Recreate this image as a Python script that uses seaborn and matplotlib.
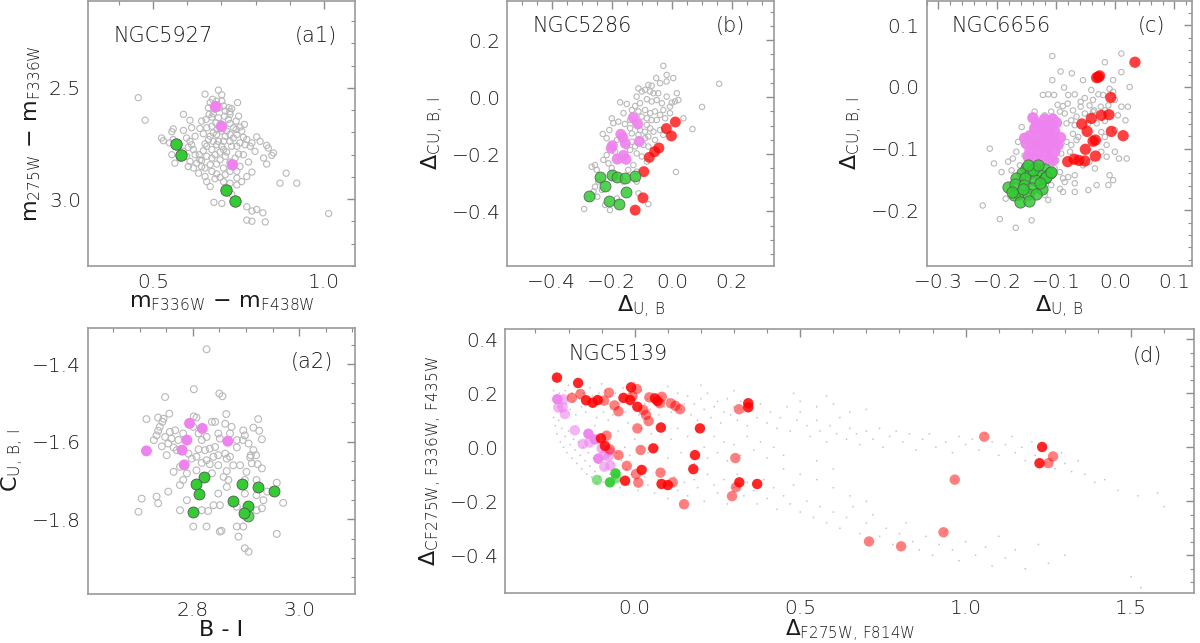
import matplotlib
matplotlib.use("Agg")
import matplotlib.pyplot as plt
from matplotlib.ticker import MultipleLocator
import seaborn as sns

# ---------------- data ----------------
# (a1) NGC5927 : m_F336W - m_F438W  vs  m_275W - m_F336W
a1_bg = [(0.457, 2.544), (0.477, 2.645), (0.691, 2.510), (0.701, 2.531), (0.652, 2.528), (0.674, 2.551),
         (0.667, 2.566), (0.686, 2.559), (0.701, 2.559), (0.747, 2.566), (0.662, 2.589), (0.706, 2.581),
         (0.722, 2.589), (0.730, 2.593), (0.664, 2.619), (0.655, 2.642), (0.642, 2.649), (0.676, 2.616),
         (0.691, 2.634), (0.709, 2.627), (0.725, 2.619), (0.720, 2.642), (0.750, 2.627), (0.589, 2.619),
         (0.608, 2.645), (0.684, 2.657), (0.672, 2.672), (0.657, 2.679), (0.637, 2.682), (0.725, 2.660),
         (0.735, 2.679), (0.715, 2.694), (0.743, 2.687), (0.767, 2.664), (0.559, 2.684), (0.589, 2.691),
         (0.555, 2.697), (0.613, 2.679), (0.647, 2.706), (0.667, 2.717), (0.686, 2.709), (0.701, 2.694),
         (0.711, 2.717), (0.725, 2.709), (0.745, 2.709), (0.759, 2.694), (0.774, 2.732), (0.789, 2.747),
         (0.803, 2.720), (0.813, 2.740), (0.769, 2.755), (0.754, 2.747), (0.735, 2.725), (0.525, 2.725),
         (0.530, 2.737), (0.559, 2.732), (0.548, 2.747), (0.608, 2.740), (0.613, 2.755), (0.603, 2.767),
         (0.589, 2.785), (0.618, 2.777), (0.652, 2.752), (0.657, 2.762), (0.686, 2.755), (0.706, 2.777),
         (0.715, 2.788), (0.696, 2.788), (0.681, 2.800), (0.672, 2.815), (0.657, 2.807), (0.637, 2.823),
         (0.628, 2.838), (0.608, 2.830), (0.603, 2.853), (0.618, 2.860), (0.642, 2.853), (0.667, 2.845),
         (0.686, 2.842), (0.706, 2.860), (0.725, 2.875), (0.745, 2.875), (0.754, 2.853), (0.779, 2.833),
         (0.764, 2.800), (0.750, 2.797), (0.784, 2.762), (0.798, 2.785), (0.823, 2.815), (0.832, 2.758),
         (0.837, 2.770), (0.852, 2.792), (0.847, 2.803), (0.832, 2.842), (0.789, 2.878), (0.774, 2.898),
         (0.745, 2.905), (0.725, 2.928), (0.706, 2.921), (0.686, 2.886), (0.672, 2.875), (0.652, 2.898),
         (0.657, 2.921), (0.667, 2.943), (0.564, 2.838), (0.555, 2.800), (0.579, 2.815), (0.598, 2.807),
         (0.633, 2.883), (0.678, 3.014), (0.701, 3.019), (0.730, 2.978), (0.759, 2.921), (0.745, 2.936),
         (0.774, 3.034), (0.789, 3.053), (0.803, 3.046), (0.821, 3.061), (0.774, 3.094), (0.789, 3.099),
         (0.828, 3.102), (0.889, 2.883), (0.871, 2.928), (0.920, 2.928), (1.013, 3.064), (0.635, 2.800),
         (0.642, 2.827), (0.696, 2.823), (0.711, 2.807), (0.701, 2.762), (0.694, 2.589), (0.711, 2.604),
         (0.725, 2.607), (0.681, 2.596), (0.672, 2.631), (0.698, 2.661), (0.688, 2.687), (0.676, 2.702),
         (0.662, 2.732), (0.676, 2.740), (0.691, 2.740), (0.725, 2.740), (0.730, 2.762), (0.745, 2.762),
         (0.764, 2.722), (0.740, 2.815), (0.725, 2.833), (0.711, 2.890), (0.696, 2.902), (0.681, 2.908),
         (0.623, 2.717), (0.598, 2.725), (0.574, 2.762), (0.623, 2.800), (0.647, 2.782), (0.743, 2.649),
         (0.754, 2.676), (0.706, 2.740), (0.672, 2.777), (0.652, 2.860)]
a1_violet = [(0.683, 2.584), (0.700, 2.673), (0.732, 2.845)]
a1_green = [(0.568, 2.752), (0.583, 2.801), (0.713, 2.957), (0.740, 3.007)]

# (a2) NGC5927 : B - I  vs  C_U,B,I
a2_bg = [(2.826, -1.362), (2.802, -1.465), (2.748, -1.485), (2.850, -1.476), (2.856, -1.483), (2.713, -1.542),
         (2.735, -1.538), (2.745, -1.541), (2.756, -1.528), (2.743, -1.549), (2.738, -1.562), (2.735, -1.572),
         (2.732, -1.584), (2.727, -1.596), (2.748, -1.588), (2.757, -1.575), (2.767, -1.571), (2.760, -1.592),
         (2.754, -1.605), (2.764, -1.615), (2.770, -1.622), (2.751, -1.635), (2.742, -1.612), (2.802, -1.535),
         (2.807, -1.538), (2.801, -1.562), (2.811, -1.579), (2.817, -1.596), (2.826, -1.588), (2.836, -1.549),
         (2.842, -1.549), (2.848, -1.579), (2.861, -1.554), (2.863, -1.529), (2.873, -1.562), (2.851, -1.592),
         (2.842, -1.614), (2.832, -1.618), (2.823, -1.622), (2.811, -1.620), (2.807, -1.639), (2.798, -1.644),
         (2.792, -1.631), (2.826, -1.648), (2.839, -1.639), (2.848, -1.635), (2.861, -1.631), (2.864, -1.644),
         (2.870, -1.639), (2.883, -1.615), (2.895, -1.571), (2.898, -1.584), (2.894, -1.596), (2.914, -1.564),
         (2.923, -1.542), (2.925, -1.572), (2.930, -1.594), (2.905, -1.605), (2.914, -1.622), (2.919, -1.635),
         (2.908, -1.641), (2.889, -1.661), (2.901, -1.678), (2.930, -1.669), (2.922, -1.658), (2.911, -1.656),
         (2.898, -1.699), (2.864, -1.676), (2.848, -1.661), (2.832, -1.658), (2.817, -1.655), (2.807, -1.674),
         (2.776, -1.665), (2.764, -1.678), (2.782, -1.699), (2.776, -1.712), (2.754, -1.729), (2.732, -1.742),
         (2.704, -1.747), (2.698, -1.781), (2.735, -1.759), (2.776, -1.777), (2.789, -1.751), (2.817, -1.777),
         (2.829, -1.779), (2.839, -1.764), (2.851, -1.764), (2.848, -1.734), (2.867, -1.699), (2.864, -1.717),
         (2.883, -1.768), (2.898, -1.734), (2.920, -1.738), (2.933, -1.751), (2.940, -1.729), (2.958, -1.706),
         (2.970, -1.758), (2.930, -1.772), (2.920, -1.777), (2.801, -1.819), (2.826, -1.819), (2.851, -1.832),
         (2.854, -1.830), (2.883, -1.819), (2.886, -1.845), (2.895, -1.819), (2.898, -1.875), (2.905, -1.884),
         (2.958, -1.838), (2.920, -1.699), (2.909, -1.635), (2.883, -1.596), (2.870, -1.579), (2.782, -1.579),
         (2.773, -1.596), (2.789, -1.682), (2.836, -1.682), (2.876, -1.661), (2.858, -1.691)]
a2_violet = [(2.794, -1.553), (2.818, -1.566), (2.789, -1.596), (2.780, -1.622), (2.713, -1.624),
             (2.784, -1.660), (2.866, -1.599)]
a2_green = [(2.822, -1.690), (2.807, -1.710), (2.811, -1.734), (2.801, -1.781), (2.893, -1.710), (2.923, -1.717),
            (2.952, -1.728), (2.876, -1.752), (2.904, -1.766), (2.896, -1.783)]
a2_green_faint = [(2.904, -1.792)]

# (b) NGC5286
b_bg = [(-0.028, 0.110), (-0.017, 0.078), (-0.052, 0.067), (0.005, 0.067), (-0.017, 0.055), (-0.078, 0.043),
        (-0.067, 0.040), (-0.039, 0.049), (0.158, 0.047), (-0.111, 0.031), (-0.100, 0.020), (-0.089, 0.026),
        (-0.072, 0.020), (-0.045, 0.014), (-0.017, 0.002), (0.017, 0.014), (0.022, -0.010), (0.000, -0.019),
        (-0.172, -0.018), (-0.150, -0.024), (-0.122, -0.031), (-0.106, -0.021), (-0.083, -0.007), (-0.067, -0.015),
        (-0.050, -0.010), (-0.033, -0.021), (-0.006, -0.033), (0.011, -0.015), (0.101, -0.034), (-0.133, -0.045),
        (-0.111, -0.050), (-0.089, -0.045), (-0.072, -0.056), (-0.056, -0.050), (-0.039, -0.062), (-0.022, -0.074),
        (-0.050, -0.080), (-0.067, -0.080), (-0.083, -0.074), (-0.100, -0.068), (-0.200, -0.074), (-0.195, -0.091),
        (-0.178, -0.086), (-0.156, -0.094), (-0.083, -0.097), (-0.072, -0.109), (-0.061, -0.121), (-0.089, -0.121),
        (-0.106, -0.115), (-0.139, -0.109), (-0.133, -0.127), (-0.111, -0.132), (-0.089, -0.144), (-0.078, -0.138),
        (-0.056, -0.150), (0.039, -0.074), (0.069, -0.112), (-0.230, -0.129), (-0.208, -0.115), (-0.217, -0.144),
        (-0.183, -0.150), (-0.133, -0.156), (-0.122, -0.173), (-0.139, -0.185), (-0.095, -0.167), (-0.078, -0.173),
        (-0.117, -0.197), (-0.100, -0.208), (-0.189, -0.191), (-0.217, -0.203), (-0.228, -0.220), (-0.256, -0.238),
        (-0.267, -0.244), (-0.250, -0.255), (-0.211, -0.232), (-0.200, -0.249), (-0.128, -0.238), (-0.145, -0.255),
        (-0.117, -0.261), (-0.245, -0.296), (-0.256, -0.314), (-0.233, -0.325), (-0.261, -0.331), (-0.278, -0.355),
        (-0.248, -0.349), (-0.292, -0.392), (-0.206, -0.396), (-0.183, -0.355), (-0.117, -0.296), (0.014, -0.262),
        (-0.139, -0.080), (-0.122, -0.091), (-0.161, -0.056), (-0.061, 0.014), (-0.117, 0.002), (-0.028, -0.045),
        (-0.006, -0.056), (-0.039, -0.115), (-0.028, -0.132), (-0.150, -0.173), (-0.172, -0.220), (-0.083, -0.226),
        (-0.111, -0.337), (-0.222, -0.378), (-0.078, -0.375), (-0.161, -0.296)]
b_violet = [(-0.128, -0.0715), (-0.113, -0.094), (-0.170, -0.130), (-0.163, -0.141), (-0.155, -0.162),
            (-0.108, -0.155), (-0.198, -0.170), (-0.202, -0.179), (-0.161, -0.204), (-0.182, -0.217),
            (-0.152, -0.218)]
b_green = [(-0.239, -0.281), (-0.200, -0.272), (-0.183, -0.281), (-0.156, -0.282), (-0.122, -0.277),
           (-0.221, -0.310), (-0.276, -0.346), (-0.208, -0.364), (-0.177, -0.375), (-0.152, -0.334)]
b_red = [(0.012, -0.087), (-0.018, -0.110), (-0.001, -0.136), (-0.043, -0.178), (-0.057, -0.191),
         (-0.075, -0.211), (-0.093, -0.261), (-0.096, -0.353), (-0.122, -0.396)]

# (c) NGC6656
c_bg = [(-0.107, 0.050), (0.010, 0.054), (-0.018, 0.040), (-0.093, 0.025), (-0.074, 0.022), (-0.004, 0.011),
        (-0.055, 0.011), (-0.107, 0.011), (-0.087, -0.001), (-0.069, -0.012), (-0.104, -0.013), (-0.114, -0.012),
        (-0.123, -0.013), (-0.052, -0.018), (-0.038, -0.021), (-0.029, -0.012), (-0.021, -0.013), (-0.010, -0.003),
        (-0.004, -0.008), (0.024, 0.000), (0.010, -0.032), (0.021, -0.032), (-0.098, -0.029), (-0.089, -0.031),
        (-0.081, -0.027), (-0.072, -0.038), (-0.059, -0.032), (-0.044, -0.030), (-0.036, -0.038), (-0.025, -0.032),
        (-0.012, -0.030), (-0.001, -0.021), (-0.137, -0.040), (-0.120, -0.046), (-0.109, -0.040), (-0.086, -0.043),
        (-0.075, -0.054), (-0.066, -0.048), (-0.052, -0.043), (-0.038, -0.040), (-0.018, -0.038), (0.004, -0.046),
        (0.017, -0.054), (-0.083, -0.059), (-0.069, -0.062), (-0.046, -0.059), (-0.032, -0.059), (-0.018, -0.055),
        (-0.072, -0.076), (-0.063, -0.081), (-0.018, -0.081), (-0.001, -0.070), (-0.024, -0.073), (-0.083, -0.089),
        (-0.075, -0.094), (-0.066, -0.086), (-0.015, -0.094), (-0.024, -0.105), (-0.015, -0.113), (-0.001, -0.105),
        (0.006, -0.116), (0.019, -0.116), (-0.092, -0.108), (-0.077, -0.105), (-0.159, -0.065), (-0.165, -0.089),
        (-0.168, -0.105), (-0.154, -0.111), (-0.174, -0.116), (-0.182, -0.121), (-0.206, -0.124), (-0.213, -0.100),
        (-0.193, -0.138), (-0.176, -0.135), (-0.162, -0.127), (-0.103, -0.132), (-0.094, -0.138), (-0.089, -0.148),
        (-0.080, -0.146), (-0.069, -0.143), (-0.055, -0.127), (-0.044, -0.121), (-0.035, -0.132), (-0.032, -0.159),
        (-0.010, -0.143), (-0.004, -0.151), (-0.012, -0.159), (-0.046, -0.167), (-0.069, -0.156), (-0.086, -0.154),
        (-0.094, -0.165), (-0.089, -0.170), (-0.069, -0.170), (-0.109, -0.159), (-0.114, -0.183), (-0.120, -0.175),
        (-0.225, -0.192), (-0.196, -0.214), (-0.169, -0.228), (-0.142, -0.216), (-0.186, -0.181), (-0.100, -0.119),
        (0.010, 0.024), (-0.041, -0.005), (-0.080, -0.013), (-0.059, -0.024), (-0.094, -0.040), (-0.106, -0.048)]
c_red = [(0.033, 0.040), (-0.029, 0.016), (-0.032, 0.015), (-0.027, 0.018), (-0.008, -0.017), (-0.024, -0.046),
         (-0.011, -0.045), (-0.057, -0.060), (-0.041, -0.051), (-0.007, -0.072), (0.013, -0.079), (-0.048, -0.072),
         (-0.038, -0.088), (-0.034, -0.086), (-0.051, -0.101), (-0.034, -0.112), (-0.081, -0.121), (-0.070, -0.117),
         (-0.062, -0.119), (-0.052, -0.120)]
c_violet = [(-0.140, -0.050), (-0.120, -0.052), (-0.106, -0.052), (-0.100, -0.058), (-0.125, -0.062),
            (-0.111, -0.062), (-0.137, -0.067), (-0.123, -0.070), (-0.103, -0.072), (-0.093, -0.082),
            (-0.145, -0.079), (-0.131, -0.078), (-0.117, -0.081), (-0.107, -0.084), (-0.151, -0.092),
            (-0.137, -0.090), (-0.123, -0.090), (-0.110, -0.094), (-0.097, -0.094), (-0.145, -0.104),
            (-0.131, -0.105), (-0.117, -0.105), (-0.103, -0.105), (-0.138, -0.116), (-0.125, -0.119),
            (-0.111, -0.116), (-0.120, -0.076), (-0.128, -0.094), (-0.142, -0.094), (-0.103, -0.089),
            (-0.154, -0.083), (-0.114, -0.070), (-0.134, -0.058), (-0.117, -0.097), (-0.106, -0.119),
            (-0.148, -0.113)]
c_green = [(-0.151, -0.132), (-0.137, -0.131), (-0.120, -0.133), (-0.111, -0.140), (-0.159, -0.140),
           (-0.145, -0.140), (-0.128, -0.143), (-0.168, -0.148), (-0.154, -0.148), (-0.137, -0.150),
           (-0.120, -0.148), (-0.182, -0.162), (-0.171, -0.158), (-0.155, -0.159), (-0.142, -0.164),
           (-0.125, -0.166), (-0.165, -0.173), (-0.148, -0.174), (-0.134, -0.174), (-0.172, -0.175),
           (-0.162, -0.186), (-0.147, -0.185), (-0.117, -0.146), (-0.109, -0.138), (-0.128, -0.155),
           (-0.157, -0.166), (-0.176, -0.170), (-0.140, -0.135), (-0.131, -0.127), (-0.148, -0.126)]

# (d) NGC5139
d_bg = [(-0.245, 0.21), (-0.24, 0.17), (-0.236, 0.19), (-0.232, 0.15), (-0.228, 0.20), (-0.222, 0.13),
        (-0.218, 0.18), (-0.21, 0.21), (-0.205, 0.16), (-0.2, 0.19), (-0.195, 0.14), (-0.19, 0.2), (-0.185, 0.17),
        (-0.178, 0.12), (-0.172, 0.21), (-0.166, 0.18), (-0.16, 0.15), (-0.154, 0.2), (-0.148, 0.13),
        (-0.142, 0.17), (-0.135, 0.22), (-0.128, 0.19), (-0.121, 0.15), (-0.115, 0.11), (-0.108, 0.2),
        (-0.1, 0.17), (-0.094, 0.13), (-0.088, 0.21), (-0.08, 0.16), (-0.073, 0.19), (-0.066, 0.12), (-0.058, 0.2),
        (-0.05, 0.15), (-0.043, 0.18), (-0.035, 0.22), (-0.028, 0.13), (-0.02, 0.17), (-0.012, 0.2),
        (-0.004, 0.15), (0.005, 0.19), (0.013, 0.12), (0.021, 0.21), (0.03, 0.16), (0.038, 0.18), (0.047, 0.14),
        (0.055, 0.2), (0.064, 0.17), (0.073, 0.12), (0.082, 0.19), (0.09, 0.15), (0.1, 0.18), (0.11, 0.13),
        (0.12, 0.17), (0.13, 0.2), (0.14, 0.14), (0.15, 0.16),
        (0.16, 0.19), (0.17, 0.12), (0.18, 0.16), (0.19, 0.1), (0.2, 0.18), (0.21, 0.14), (0.22, 0.2), (0.23, 0.11),
        (0.24, 0.15), (0.25, 0.17), (0.26, 0.09), (0.27, 0.13), (0.28, 0.18), (0.29, 0.12), (0.3, 0.15),
        (0.31, 0.1), (0.32, 0.17), (0.33, 0.13), (0.34, 0.08), (0.35, 0.14), (0.37, 0.11), (0.38, 0.16),
        (0.4, 0.09), (0.41, 0.13), (0.43, 0.07), (0.44, 0.11), (0.46, 0.15), (0.47, 0.06), (0.49, 0.1), (0.5, 0.13),
        (0.52, 0.08), (0.53, 0.04), (0.55, 0.1), (0.56, 0.06), (0.58, 0.02), (0.59, 0.08), (0.61, 0.05),
        (0.62, 0.11), (0.64, 0.03), (0.65, 0.07), (0.67, 0.05), (0.68, 0.01), (0.7, 0.06), (0.72, 0.03),
        (0.74, 0.07), (0.75, 0.0), (0.77, 0.04), (0.79, 0.06), (0.81, 0.02), (0.83, 0.05), (0.85, -0.01),
        (0.87, 0.03), (0.89, 0.05), (0.91, 0.0), (0.94, 0.02), (0.96, -0.02), (0.98, 0.04), (1.0, 0.01),
        (0.5, 0.17), (0.55, 0.15), (0.6, 0.16), (0.65, 0.13), (0.7, 0.14), (0.48, 0.2), (0.58, 0.19),
        (1.02, 0.03), (1.04, -0.01), (1.06, 0.05), (1.08, 0.02), (1.1, -0.03), (1.12, 0.01), (1.14, 0.04),
        (1.15, -0.02), (1.17, 0.0), (1.18, -0.05), (1.2, 0.02), (1.21, -0.03), (1.23, -0.07), (1.24, 0.0),
        (1.26, -0.04), (1.27, -0.08), (1.29, -0.02), (1.3, -0.06), (1.32, -0.09), (1.34, -0.05), (1.36, -0.1),
        (1.39, -0.13), (1.42, -0.12), (1.46, -0.16), (1.52, -0.18), (1.58, -0.17), (1.6, -0.22),
        (-0.245, 0.11), (-0.24, 0.08), (-0.235, 0.05), (-0.23, 0.1), (-0.225, 0.02), (-0.22, 0.07), (-0.215, 0.0),
        (-0.21, 0.04), (-0.205, -0.02), (-0.2, 0.06), (-0.195, 0.01), (-0.19, -0.04), (-0.185, 0.03),
        (-0.18, -0.01), (-0.175, -0.06), (-0.17, 0.02), (-0.165, -0.03), (-0.16, -0.08), (-0.155, 0.0),
        (-0.15, -0.05), (-0.145, -0.1), (-0.14, -0.02), (-0.135, -0.07), (-0.13, -0.11), (-0.125, -0.04),
        (-0.12, -0.09), (-0.115, -0.13), (-0.11, -0.06), (-0.105, -0.11), (-0.1, -0.02), (-0.095, -0.13),
        (-0.09, -0.08), (-0.085, -0.12), (-0.08, -0.04), (-0.075, -0.1), (-0.07, -0.14), (-0.065, -0.06),
        (-0.06, -0.12), (-0.055, -0.02), (-0.05, -0.09), (-0.045, -0.15), (-0.04, -0.05), (-0.035, -0.12),
        (-0.03, 0.0), (-0.025, -0.08), (-0.02, -0.14), (-0.015, -0.03), (-0.01, -0.1),
        (-0.12, 0.08), (-0.08, 0.1), (-0.05, 0.06), (-0.02, 0.09), (0.0, 0.03), (0.02, 0.07), (0.04, -0.02),
        (0.05, 0.05), (0.07, 0.0), (0.08, 0.09), (0.1, -0.04), (0.11, 0.03), (0.13, 0.07), (0.14, -0.02),
        (0.16, 0.04), (0.18, -0.06), (0.19, 0.06), (0.21, 0.0), (0.22, -0.04), (0.24, 0.04), (0.25, -0.02),
        (0.27, 0.02), (0.28, -0.05), (0.3, 0.01), (0.32, -0.03), (0.34, 0.04), (0.36, -0.01), (0.38, 0.02),
        (0.4, -0.04), (0.42, 0.0), (0.45, -0.03),
        (0.0, -0.12), (0.01, -0.16), (0.03, -0.11), (0.04, -0.14), (0.06, -0.17), (0.07, -0.12), (0.09, -0.15),
        (0.1, -0.19), (0.12, -0.11), (0.13, -0.16), (0.15, -0.13), (0.16, -0.18), (0.18, -0.12), (0.19, -0.15),
        (0.21, -0.2), (0.22, -0.1), (0.24, -0.14), (0.25, -0.17), (0.27, -0.12), (0.28, -0.21), (0.3, -0.15),
        (0.31, -0.1), (0.33, -0.18), (0.34, -0.13), (0.36, -0.16), (0.37, -0.21), (0.39, -0.12), (0.4, -0.19),
        (0.42, -0.15), (0.43, -0.23), (0.45, -0.18), (0.47, -0.21), (0.48, -0.14), (0.5, -0.24),
        (0.52, -0.2), (0.54, -0.26), (0.56, -0.22), (0.58, -0.28), (0.6, -0.24), (0.62, -0.3), (0.64, -0.26),
        (0.66, -0.22), (0.68, -0.32), (0.7, -0.28), (0.72, -0.25), (0.74, -0.33), (0.76, -0.3), (0.78, -0.36),
        (0.8, -0.32), (0.82, -0.28), (0.84, -0.35), (0.86, -0.38), (0.88, -0.33), (0.9, -0.4), (0.92, -0.36),
        (0.94, -0.31), (0.96, -0.38), (0.98, -0.42), (1.0, -0.35), (1.03, -0.4), (1.06, -0.37), (1.08, -0.44),
        (1.1, -0.33), (1.12, -0.41), (1.15, -0.38), (1.18, -0.45), (1.22, -0.36), (1.25, -0.43), (1.3, -0.4),
        (1.5, -0.48), (1.53, -0.52),
        (-0.2, 0.23), (-0.1, 0.235), (0.0, 0.24), (0.1, 0.225), (0.2, 0.23), (0.3, 0.21),
        (0.45, -0.08), (0.5, -0.1), (0.55, -0.12), (0.6, -0.15), (0.65, -0.18), (0.7, -0.2), (0.55, -0.05),
        (0.6, -0.08)]
d_red_strong = [(-0.235, 0.258), (-0.171, 0.238), (-0.147, 0.174), (-0.127, 0.165), (-0.112, 0.175),
                (-0.011, 0.222), (-0.034, 0.183), (-0.014, 0.175), (0.008, 0.150), (0.061, 0.181), (0.069, 0.171),
                (0.079, 0.073), (0.197, 0.070), (0.343, 0.163), (0.343, 0.148), (-0.102, 0.033), (-0.090, 0.005),
                (0.056, -0.004), (0.021, -0.084), (-0.029, -0.124), (0.081, -0.136), (0.100, -0.140),
                (0.177, -0.081), (0.182, -0.029), (0.316, -0.130), (0.370, -0.136), (1.231, 0.001), (1.223, -0.059)]
d_red_light = [(-0.164, 0.197), (-0.190, 0.183), (-0.078, 0.202), (-0.093, 0.173), (-0.061, 0.155),
               (-0.049, 0.133), (0.006, 0.216), (-0.007, 0.190), (0.026, 0.138), (0.034, 0.120), (0.042, 0.097),
               (0.044, 0.185), (0.082, 0.187), (0.076, 0.163), (0.109, 0.163), (0.123, 0.153), (0.137, 0.141),
               (0.008, 0.070), (0.315, 0.141), (-0.085, 0.043), (-0.075, -0.008), (-0.049, -0.029), (0.018, -0.010),
               (-0.024, -0.069), (0.004, -0.099), (0.011, -0.131), (0.078, -0.094), (0.115, -0.130),
               (0.304, -0.040), (0.306, -0.148), (0.294, -0.181), (0.149, -0.211), (1.056, 0.039), (1.264, -0.034),
               (1.250, -0.059), (0.967, -0.120), (0.933, -0.315), (0.708, -0.349), (0.805, -0.367)]
d_violet_strong = [(-0.234, 0.178), (-0.140, 0.050), (-0.120, 0.029), (-0.110, -0.042)]
d_violet_light = [(-0.216, 0.178), (-0.231, 0.147), (-0.218, 0.148), (-0.211, 0.123), (-0.181, 0.063),
                  (-0.157, 0.012), (-0.137, 0.018), (-0.100, -0.004), (-0.093, -0.029), (-0.080, -0.035),
                  (-0.092, -0.072), (-0.073, -0.068), (-0.077, -0.016)]
d_green_strong = [(-0.075, -0.130), (-0.058, -0.097)]
d_green_light = [(-0.114, -0.121), (-0.056, -0.115)]

panel_names = ["NGC5927", "NGC5286", "NGC6656", "NGC5139"]

# ---------------- style ----------------
sns.set_style("white")
plt.rcParams["font.family"] = ["DejaVu Sans"]
plt.rcParams["font.weight"] = "light"
plt.rcParams["text.color"] = "0.1"
plt.rcParams["axes.labelcolor"] = "0.1"
plt.rcParams["mathtext.fontset"] = "custom"
plt.rcParams["mathtext.rm"] = "DejaVu Sans:light"
plt.rcParams["mathtext.it"] = "DejaVu Sans:italic:light"
plt.rcParams["mathtext.bf"] = "DejaVu Sans:bold"

GREEN = "#33cc33"
VIOLET = "#ee82ee"
RED = "#ff0000"
BG_EDGE = "#b8b8b8"


def xy(points):
    return [p[0] for p in points], [p[1] for p in points]


def open_dots(ax, pts, s):
    x, y = xy(pts)
    sns.scatterplot(x=x, y=y, ax=ax, s=s, facecolor="none", edgecolor=BG_EDGE, linewidth=0.8, zorder=1)


def dots(ax, pts, color, s, alpha=1.0, edge="none", z=3):
    x, y = xy(pts)
    sns.scatterplot(x=x, y=y, ax=ax, s=s, color=color, alpha=alpha, edgecolor=edge,
                    linewidth=0.6, zorder=z)


def style(ax, xmaj, xmin, ymaj, ymin):
    ax.xaxis.set_major_locator(MultipleLocator(xmaj))
    ax.xaxis.set_minor_locator(MultipleLocator(xmin))
    ax.yaxis.set_major_locator(MultipleLocator(ymaj))
    ax.yaxis.set_minor_locator(MultipleLocator(ymin))
    ax.tick_params(which="both", direction="in", top=True, right=True, color="0.55",
                   labelsize=14.5, labelcolor="0.1", pad=5)
    ax.tick_params(which="major", length=6, width=1)
    ax.tick_params(which="minor", length=3, width=0.8)
    for sp in ax.spines.values():
        sp.set_color("0.6")
        sp.set_linewidth(1.2)


fig = plt.figure(figsize=(12, 6.43), dpi=100)
ax_a1 = fig.add_axes([0.0733, 0.5863, 0.2225, 0.412])
ax_a2 = fig.add_axes([0.0733, 0.0762, 0.2225, 0.4137])
ax_b = fig.add_axes([0.4228, 0.5863, 0.2225, 0.412])
ax_c = fig.add_axes([0.7722, 0.5863, 0.2208, 0.412])
ax_d = fig.add_axes([0.4211, 0.0773, 0.5742, 0.411])

# (a1)
open_dots(ax_a1, a1_bg, 20)
dots(ax_a1, a1_violet, VIOLET, 68)
dots(ax_a1, a1_green, GREEN, 68, edge="#555555")
ax_a1.set_xlim(0.31, 1.09)
ax_a1.set_ylim(3.30, 2.11)
style(ax_a1, 0.5, 0.1, 0.5, 0.1)
ax_a1.set_xlabel(r"m$_{\mathrm{F336W}}$ − m$_{\mathrm{F438W}}$", fontsize=16, labelpad=1)
ax_a1.set_ylabel(r"m$_{\mathrm{275W}}$ − m$_{\mathrm{F336W}}$", fontsize=16)
ax_a1.text(0.094, 0.867, panel_names[0], transform=ax_a1.transAxes, fontsize=15, va="center", ha="left")
ax_a1.text(0.933, 0.867, "(a1)", transform=ax_a1.transAxes, fontsize=15, va="center", ha="right")

# (a2)
open_dots(ax_a2, a2_bg, 24)
dots(ax_a2, a2_violet, VIOLET, 62)
dots(ax_a2, a2_green_faint, GREEN, 62, alpha=0.8, edge="#555555", z=2)
dots(ax_a2, a2_green, GREEN, 62, edge="#555555")
ax_a2.set_xlim(2.603, 3.105)
ax_a2.set_ylim(-1.993, -1.307)
style(ax_a2, 0.2, 0.05, 0.2, 0.05)
ax_a2.set_xlabel("B - I", fontsize=16, labelpad=0)
ax_a2.set_ylabel(r"C$_{\mathrm{U,\,B,\,I}}$", fontsize=16)
ax_a2.text(0.918, 0.872, "(a2)", transform=ax_a2.transAxes, fontsize=15, va="center", ha="right")

# (b)
open_dots(ax_b, b_bg, 15)
dots(ax_b, b_red, RED, 62, alpha=0.75)
dots(ax_b, b_violet, VIOLET, 62, alpha=0.9)
dots(ax_b, b_green, GREEN, 62, alpha=0.85, edge="#555555")
ax_b.set_xlim(-0.548, 0.342)
ax_b.set_ylim(-0.592, 0.337)
style(ax_b, 0.2, 0.05, 0.2, 0.05)
ax_b.set_xlabel(r"Δ$_{\mathrm{U,\,B}}$", fontsize=16, labelpad=1)
ax_b.set_ylabel(r"Δ$_{\mathrm{CU,\,B,\,I}}$", fontsize=16)
ax_b.text(0.096, 0.905, panel_names[1], transform=ax_b.transAxes, fontsize=15, va="center", ha="left")
ax_b.text(0.89, 0.905, "(b)", transform=ax_b.transAxes, fontsize=15, va="center", ha="right")

# (c)
open_dots(ax_c, c_bg, 15)
dots(ax_c, c_red, RED, 66, alpha=0.75)
dots(ax_c, c_violet, VIOLET, 66, alpha=0.95)
dots(ax_c, c_green, GREEN, 66, alpha=0.85, edge="#555555")
ax_c.set_xlim(-0.320, 0.129)
ax_c.set_ylim(-0.290, 0.139)
style(ax_c, 0.1, 0.02, 0.1, 0.02)
ax_c.set_xlabel(r"Δ$_{\mathrm{U,\,B}}$", fontsize=16, labelpad=1)
ax_c.set_ylabel(r"Δ$_{\mathrm{CU,\,B,\,I}}$", fontsize=16)
ax_c.text(0.094, 0.905, panel_names[2], transform=ax_c.transAxes, fontsize=15, va="center", ha="left")
ax_c.text(0.90, 0.905, "(c)", transform=ax_c.transAxes, fontsize=15, va="center", ha="right")

# (d)
dx, dy = xy(d_bg)
sns.scatterplot(x=dx, y=dy, ax=ax_d, s=1.5, color="#c4c4c4", edgecolor="none", zorder=1)
dots(ax_d, d_violet_light, VIOLET, 56, alpha=0.6, z=2)
dots(ax_d, d_violet_strong, VIOLET, 56, alpha=0.95, z=2)
dots(ax_d, d_green_light, GREEN, 56, alpha=0.6, z=2)
dots(ax_d, d_green_strong, GREEN, 56, alpha=0.95, z=2)
dots(ax_d, d_red_light, RED, 56, alpha=0.5, z=3)
dots(ax_d, d_red_strong, RED, 56, alpha=0.85, z=3)
ax_d.set_xlim(-0.391, 1.691)
ax_d.set_ylim(-0.541, 0.438)
style(ax_d, 0.5, 0.1, 0.2, 0.05)
ax_d.tick_params(axis="x", pad=4)
ax_d.set_xlabel(r"Δ$_{\mathrm{F275W,\,F814W}}$", fontsize=15.5, labelpad=0)
ax_d.set_ylabel(r"Δ$_{\mathrm{CF275W,\,F336W,\,F435W}}$", fontsize=16)
ax_d.text(0.092, 0.905, panel_names[3], transform=ax_d.transAxes, fontsize=15, va="center", ha="left")
ax_d.text(0.953, 0.898, "(d)", transform=ax_d.transAxes, fontsize=15, va="center", ha="right")

fig.savefig("out.png", dpi=100)
